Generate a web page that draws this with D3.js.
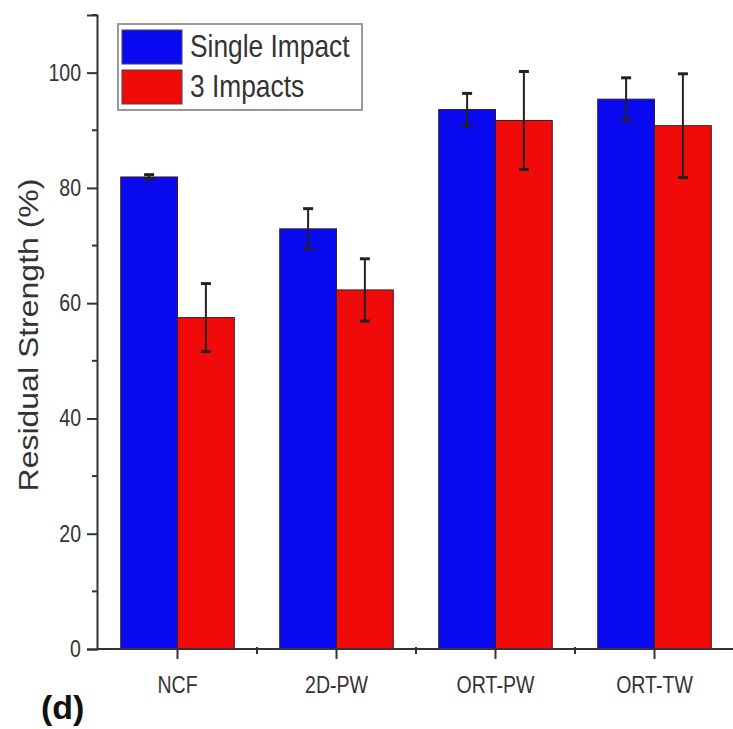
<!DOCTYPE html>
<html>
<head>
<meta charset="utf-8">
<script src="https://cdn.jsdelivr.net/npm/d3@7"></script>
<style>
  body { margin: 0; background: #fff; }
  text { font-family: "Liberation Sans", Arial, sans-serif; fill: #333; }
</style>
</head>
<body>
<svg id="chart" width="733" height="729"></svg>
<script>
// data
var categories = ["NCF", "2D-PW", "ORT-PW", "ORT-TW"];
var seriesNames = ["Single Impact", "3 Impacts"];
var singleImpact = [81.9, 72.9, 93.6, 95.4];
var singleErr = [0.4, 3.5, 2.8, 3.7];
var threeImpacts = [57.5, 62.3, 91.7, 90.8];
var threeErr = [5.9, 5.4, 8.5, 9.0];
var yMajorTicks = [0, 20, 40, 60, 80, 100];
var yMinorTicks = [10, 30, 50, 70, 90, 110];
var colors = ["#0a0af0", "#f00a0a"];

var svg = d3.select("#chart");
var squeeze = 0.85;   // the original is a bit narrow horizontally

var x = d3.scaleBand()
    .domain(categories)
    .range([98, 734])
    .padding(0);

var xSub = d3.scaleBand()
    .domain(seriesNames)
    .range([0, x.bandwidth()])
    .paddingInner(0)
    .paddingOuter(0.4);

var y = d3.scaleLinear()
    .domain([0, 110])
    .range([649, 15]);

var rows = categories.map(function(c, i) {
    return [
        {cat: c, name: seriesNames[0], value: singleImpact[i], err: singleErr[i]},
        {cat: c, name: seriesNames[1], value: threeImpacts[i], err: threeErr[i]}
    ];
});

// bars
var groups = svg.selectAll("g.group")
    .data(rows)
    .enter()
    .append("g")
    .attr("class", "group")
    .attr("transform", function(d) { return "translate(" + x(d[0].cat) + ",0)"; });

groups.selectAll("rect")
    .data(function(d) { return d; })
    .enter()
    .append("rect")
    .attr("x", function(d) { return xSub(d.name); })
    .attr("y", function(d) { return y(d.value); })
    .attr("width", xSub.bandwidth())
    .attr("height", function(d) { return y(0) - y(d.value); })
    .style("fill", function(d, i) { return colors[i]; })
    .style("stroke", "#3a2020")
    .style("stroke-width", 1);

// error bars
var err = groups.selectAll("g.err")
    .data(function(d) { return d; })
    .enter()
    .append("g")
    .attr("class", "err")
    .attr("transform", function(d) { return "translate(" + (xSub(d.name) + xSub.bandwidth() / 2) + ",0)"; });

err.append("line")
    .attr("y1", function(d) { return y(d.value - d.err); })
    .attr("y2", function(d) { return y(d.value + d.err); })
    .style("stroke", "#222")
    .style("stroke-width", 2);

err.append("line")
    .attr("x1", -5).attr("x2", 5)
    .attr("y1", function(d) { return y(d.value + d.err); })
    .attr("y2", function(d) { return y(d.value + d.err); })
    .style("stroke", "#222")
    .style("stroke-width", 3);

err.append("line")
    .attr("x1", -5).attr("x2", 5)
    .attr("y1", function(d) { return y(d.value - d.err); })
    .attr("y2", function(d) { return y(d.value - d.err); })
    .style("stroke", "#222")
    .style("stroke-width", 3);

// y axis
var yAxis = svg.append("g")
    .attr("transform", "translate(97,0)")
    .call(d3.axisLeft(y).tickValues(yMajorTicks).tickSize(10).tickPadding(6));

yAxis.selectAll(".tick text")
    .attr("x", -16 / squeeze)
    .attr("transform", "scale(" + squeeze + ",1)")
    .style("font-size", "23px");

yAxis.selectAll(".tick")
    .data(yMinorTicks, function(d) { return d; })
    .enter()
    .append("line")
    .attr("x1", -5).attr("x2", 0)
    .attr("y1", function(d) { return y(d); })
    .attr("y2", function(d) { return y(d); })
    .style("stroke", "#333")
    .style("stroke-width", 2);

// x axis
var xAxis = svg.append("g")
    .attr("transform", "translate(0,649)")
    .call(d3.axisBottom(x).tickSize(10).tickPadding(18).tickSizeOuter(0));

xAxis.selectAll(".tick text")
    .attr("transform", "scale(" + squeeze + ",1)")
    .attr("x", function() { return 0; })
    .style("font-size", "23px");

xAxis.selectAll("line.minor")
    .data(categories)
    .enter()
    .append("line")
    .attr("class", "minor")
    .attr("x1", function(d) { return x(d) + x.bandwidth(); })
    .attr("x2", function(d) { return x(d) + x.bandwidth(); })
    .attr("y1", -2).attr("y2", 5)
    .style("stroke", "#333")
    .style("stroke-width", 2);

xAxis.select(".domain").attr("d", "M97,0H734");

svg.selectAll(".domain, .tick line")
    .style("stroke", "#333")
    .style("stroke-width", 2);

// y label
svg.append("text")
    .attr("transform", "translate(28,335) rotate(-90) scale(1," + squeeze + ")")
    .attr("text-anchor", "middle")
    .attr("dy", "0.35em")
    .style("font-size", "32px")
    .text("Residual Strength (%)");

// legend
var legend = svg.append("g");
legend.append("rect")
    .attr("x", 118).attr("y", 24)
    .attr("width", 244).attr("height", 86)
    .style("fill", "#fff")
    .style("stroke", "#999")
    .style("stroke-width", 2);

var items = legend.selectAll("g.item")
    .data(seriesNames)
    .enter()
    .append("g")
    .attr("class", "item")
    .attr("transform", function(d, i) { return "translate(122," + (30 + i * 40) + ")"; });

items.append("rect")
    .attr("width", 60).attr("height", 34)
    .style("fill", function(d, i) { return colors[i]; })
    .style("stroke", "#444")
    .style("stroke-width", 1);

items.append("text")
    .attr("transform", "translate(68,27) scale(" + squeeze + ",1)")
    .style("font-size", "31px")
    .text(function(d) { return d; });

// panel tag
svg.append("text")
    .attr("x", 41).attr("y", 719)
    .style("font-size", "34px")
    .style("font-weight", "bold")
    .style("fill", "#111")
    .text("(d)");
</script>
</body>
</html>
